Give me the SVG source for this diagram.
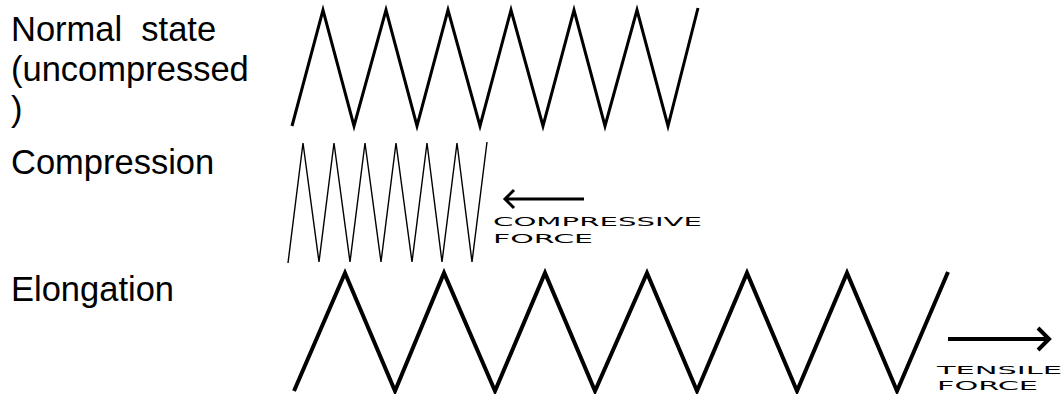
<svg xmlns="http://www.w3.org/2000/svg" width="1063" height="394" viewBox="0 0 1063 394">
<style>
.lbl{font-family:"Liberation Sans",Arial,sans-serif;font-size:34.5px;fill:#000;white-space:pre}
.tech{font-family:"DejaVu Sans","Liberation Sans",sans-serif;fill:#000}
.spring{fill:none;stroke:#000;stroke-linejoin:miter;stroke-linecap:butt}
.arrow{fill:none;stroke:#000;stroke-linecap:butt;stroke-linejoin:miter}
</style>
<rect width="1063" height="394" fill="#fff"/>
<g id="label-normal">
<text class="lbl" x="11" y="41">Normal  state</text>
<text class="lbl" x="11" y="81">(uncompressed</text>
<text class="lbl" x="11" y="121">)</text>
</g>
<g id="label-compression"><text class="lbl" x="11" y="174">Compression</text></g>
<g id="label-elongation"><text class="lbl" x="11" y="301">Elongation</text></g>
<g id="spring-normal">
<polyline class="spring" stroke-width="3" points="292,126 323,10 354,126 386,10 417,126 448,10 480,126 511,10 543,126 574,10 605,126 637,10 668,126 698,8"/>
</g>
<g id="spring-compressed">
<polyline class="spring" stroke-width="1.4" points="288,263 303,143 319,262 334,143 350,262 365,143 381,262 396,143 412,262 427,143 442,262 457,143 472,262 487,142"/>
</g>
<g id="spring-elongated">
<polyline class="spring" stroke-width="4" points="294,391 345,273 395,391 444,273 495,391 545,273 595,391 647,273 697,391 747,273 797,391 847,273 897,391 948,272"/>
</g>
<g id="connectors">
<path class="arrow" stroke-width="3" d="M584,199 H506 M514,190 L505,199 L514,208"/>
<path class="arrow" stroke-width="4" d="M948,339 H1047 M1038,328 L1049,339 L1038,350"/>
</g>
<g id="force-compressive">
<text class="tech" x="493" y="226" font-size="12.5" textLength="209" lengthAdjust="spacingAndGlyphs">COMPRESSIVE</text>
<text class="tech" x="493" y="243" font-size="12.5" textLength="100" lengthAdjust="spacingAndGlyphs">FORCE</text>
</g>
<g id="force-tensile">
<text class="tech" x="937" y="373.5" font-size="10.5" textLength="125" lengthAdjust="spacingAndGlyphs">TENSILE</text>
<text class="tech" x="937" y="389.5" font-size="12" textLength="101" lengthAdjust="spacingAndGlyphs">FORCE</text>
</g>
</svg>
